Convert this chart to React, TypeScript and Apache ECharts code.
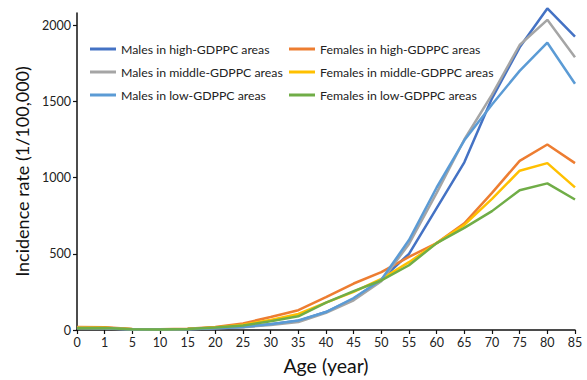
import React, { useEffect, useRef } from "react";
import * as echarts from "echarts";

const ages = ["0", "1", "5", "10", "15", "20", "25", "30", "35", "40", "45", "50", "55", "60", "65", "70", "75", "80", "85"];
const maleHigh = [15, 14, 5, 4, 6, 15, 20, 38, 60, 118, 205, 330, 500, 800, 1100, 1520, 1855, 2110, 1925];
const femaleHigh = [20, 18, 6, 5, 8, 20, 43, 85, 130, 215, 305, 380, 480, 570, 700, 900, 1110, 1217, 1095];
const maleMid = [12, 10, 4, 3, 5, 12, 18, 33, 52, 112, 195, 320, 565, 900, 1250, 1545, 1870, 2035, 1790];
const femaleMid = [16, 15, 5, 4, 6, 16, 35, 65, 105, 180, 250, 335, 445, 570, 690, 860, 1045, 1095, 936];
const maleLow = [13, 12, 4, 3, 5, 12, 20, 38, 62, 118, 210, 330, 590, 935, 1245, 1480, 1700, 1885, 1616];
const femaleLow = [12, 13, 5, 4, 7, 17, 30, 58, 90, 180, 255, 325, 425, 570, 670, 780, 917, 962, 856];

const seriesNames = [
  "Males in high-GDPPC areas",
  "Females in high-GDPPC areas",
  "Males in middle-GDPPC areas",
  "Females in middle-GDPPC areas",
  "Males in low-GDPPC areas",
  "Females in low-GDPPC areas",
];
const seriesData = [maleHigh, femaleHigh, maleMid, femaleMid, maleLow, femaleLow];
const colors = ["#4472C4", "#ED7D31", "#A5A5A5", "#FFC000", "#5B9BD5", "#70AD47"];

const FONT = "Lato, 'Open Sans', sans-serif";

export default function App() {
  const ref = useRef<HTMLDivElement>(null);
  useEffect(() => {
    if (!ref.current) return;
    const chart = echarts.init(ref.current, undefined, { renderer: "svg" });
    const legendCommon = {
      orient: "vertical" as const,
      top: 38,
      itemGap: 11,
      itemWidth: 26,
      itemHeight: 3,
      icon: "rect",
      textStyle: { fontSize: 12.3, color: "#222", fontFamily: FONT },
      selectedMode: false,
    };
    chart.setOption({
      animation: false,
      color: colors,
      textStyle: { fontFamily: FONT },
      grid: { left: 77, right: 12, top: 13, bottom: 46, containLabel: false },
      legend: [
        { ...legendCommon, left: 85, data: [seriesNames[0], seriesNames[2], seriesNames[4]] },
        { ...legendCommon, left: 284, data: [seriesNames[1], seriesNames[3], seriesNames[5]] },
      ],
      xAxis: {
        type: "category",
        data: ages,
        boundaryGap: false,
        name: "Age (year)",
        nameLocation: "middle",
        nameGap: 25,
        nameTextStyle: { fontSize: 19.5, color: "#111", fontFamily: FONT },
        axisLine: { lineStyle: { color: "#111", width: 1.5 } },
        axisTick: { show: true, length: 4, lineStyle: { color: "#111", width: 1.2 }, alignWithLabel: true },
        axisLabel: { fontSize: 12.5, color: "#222", margin: 6, interval: 0, fontFamily: FONT },
        splitLine: { show: false },
      },
      yAxis: {
        type: "value",
        min: 0,
        max: 2080,
        interval: 500,
        name: "Incidence rate (1/100,000)",
        nameLocation: "middle",
        nameGap: 46,
        nameTextStyle: { fontSize: 18, color: "#111", fontFamily: FONT },
        axisLine: { show: true, lineStyle: { color: "#111", width: 1.5 } },
        axisTick: { show: true, length: 4, lineStyle: { color: "#111", width: 1.2 } },
        axisLabel: {
          fontSize: 12.5,
          color: "#222",
          margin: 6,
          showMaxLabel: false,
          fontFamily: FONT,
          formatter: (v: number) => String(v),
        },
        splitLine: { show: false },
      },
      series: seriesNames.map((name, i) => ({
        name,
        type: "line",
        data: seriesData[i],
        symbol: "none",
        clip: false,
        lineStyle: { width: 2.5, color: colors[i] },
        itemStyle: { color: colors[i] },
      })),
    });
    return () => chart.dispose();
  }, []);
  return (
    <div
      ref={ref}
      style={{ position: "fixed", left: 0, top: 0, width: 587, height: 380, background: "#fff" }}
    />
  );
}
